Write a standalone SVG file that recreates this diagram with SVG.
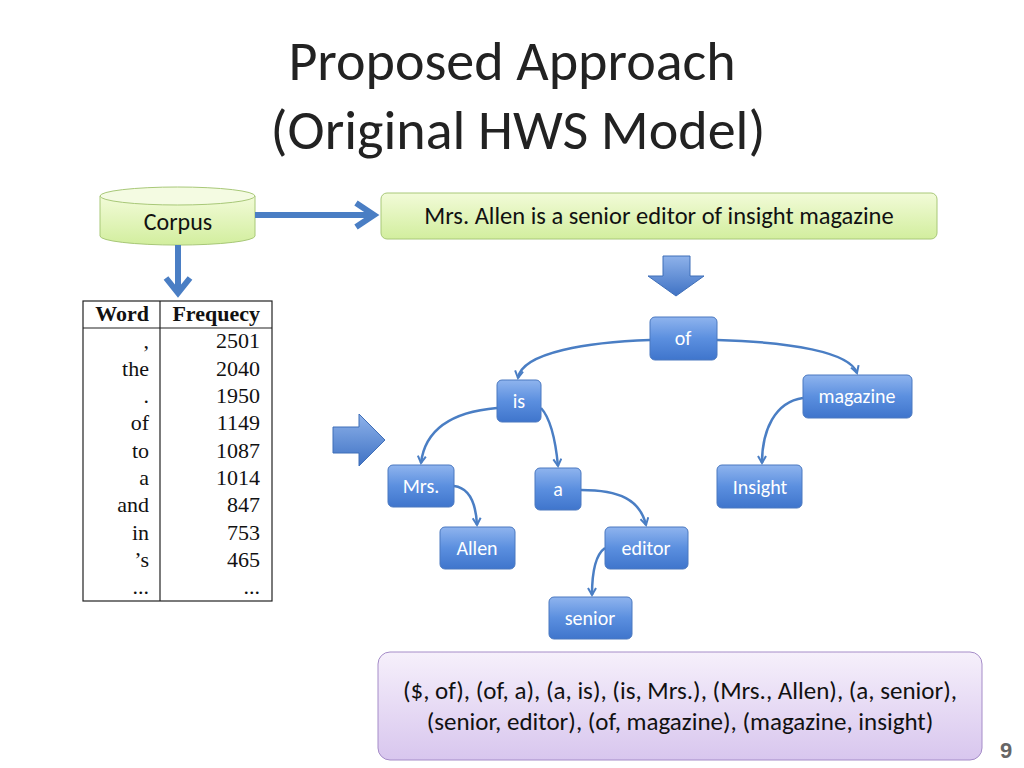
<svg xmlns="http://www.w3.org/2000/svg" width="1024" height="768" viewBox="0 0 1024 768">
<defs>
<linearGradient id="gb" x1="0" y1="0" x2="0" y2="1"><stop offset="0" stop-color="#8fb4ee"/><stop offset="0.5" stop-color="#5b8fdf"/><stop offset="1" stop-color="#3f75cc"/></linearGradient>
<linearGradient id="gg" x1="0" y1="0" x2="0" y2="1"><stop offset="0" stop-color="#f2fbd8"/><stop offset="1" stop-color="#d2ee9e"/></linearGradient>
<linearGradient id="gp" x1="0" y1="0" x2="0" y2="1"><stop offset="0" stop-color="#f6f0fb"/><stop offset="1" stop-color="#d8c6ee"/></linearGradient>
<linearGradient id="ga" x1="0" y1="0" x2="0" y2="1"><stop offset="0" stop-color="#8eb2ea"/><stop offset="1" stop-color="#3f72c4"/></linearGradient>
<marker id="ah" viewBox="0 0 10 10" refX="8" refY="5" markerWidth="4" markerHeight="4" orient="auto"><path d="M1,1 L8,5 L1,9" fill="none" stroke="#4a7ec4" stroke-width="2"/></marker>
<style>
.n rect{fill:url(#gb);stroke:#4a78c0;stroke-width:1}
.n text{font-family:Carlito,Calibri,"Open Sans","Liberation Sans",sans-serif;font-size:20px;fill:#fff;text-anchor:middle}
.c{fill:none;stroke:#4a7ec4;stroke-width:2.5;marker-end:url(#ah)}
.t{font-family:"Liberation Serif",serif;font-size:22px;fill:#111;text-anchor:end}
</style>
</defs>
<rect width="1024" height="768" fill="#fff"/>
<g font-family="Carlito,Calibri,'Open Sans','Liberation Sans',sans-serif" font-size="56" fill="#222" text-anchor="middle">
<text x="512" y="80">Proposed Approach</text>
<text x="518" y="149">(Original HWS Model)</text>
</g>
<g id="corpus">
<path d="M100,196 L100,236 A77,9 0 0 0 255,236 L255,196 Z" fill="url(#gg)" stroke="#a8c878"/>
<ellipse cx="177.5" cy="196" rx="77.5" ry="9" fill="#f4fbe2" stroke="#a8c878"/>
<text x="178" y="230" font-family="Carlito,Calibri,'Open Sans','Liberation Sans',sans-serif" font-size="24" text-anchor="middle" fill="#111">Corpus</text>
</g>
<g id="sentence">
<rect x="381" y="193" width="556" height="46" rx="6" fill="url(#gg)" stroke="#a8c878"/>
<text x="659" y="224" font-family="Carlito,Calibri,'Open Sans','Liberation Sans',sans-serif" font-size="24.5" text-anchor="middle" fill="#111">Mrs. Allen is a senior editor of insight magazine</text>
</g>
<g id="table">
<rect x="83" y="301" width="189" height="300" fill="#fff" stroke="#222" stroke-width="1.2"/>
<line x1="160" y1="301" x2="160" y2="601" stroke="#222" stroke-width="1.2"/>
<line x1="83" y1="328" x2="272" y2="328" stroke="#222" stroke-width="1.2"/>
<text class="t" x="149" y="321" font-weight="bold">Word</text>
<text class="t" x="260" y="321" font-weight="bold">Frequecy</text>
<text class="t" x="149" y="348">,</text><text class="t" x="260" y="348">2501</text>
<text class="t" x="149" y="376">the</text><text class="t" x="260" y="376">2040</text>
<text class="t" x="149" y="403">.</text><text class="t" x="260" y="403">1950</text>
<text class="t" x="149" y="430">of</text><text class="t" x="260" y="430">1149</text>
<text class="t" x="149" y="458">to</text><text class="t" x="260" y="458">1087</text>
<text class="t" x="149" y="485">a</text><text class="t" x="260" y="485">1014</text>
<text class="t" x="149" y="512">and</text><text class="t" x="260" y="512">847</text>
<text class="t" x="149" y="540">in</text><text class="t" x="260" y="540">753</text>
<text class="t" x="149" y="567">’s</text><text class="t" x="260" y="567">465</text>
<text class="t" x="149" y="594">...</text><text class="t" x="260" y="594">...</text>
</g>
<g id="big-arrows">
<line x1="255" y1="215" x2="372" y2="215" stroke="#4a7ec4" stroke-width="6"/>
<path d="M356,203 L374,215 L356,227" fill="none" stroke="#4a7ec4" stroke-width="6"/>
<line x1="178" y1="245" x2="178" y2="290" stroke="#4a7ec4" stroke-width="6"/>
<path d="M166,278 L178,293 L190,278" fill="none" stroke="#4a7ec4" stroke-width="6"/>
<path d="M663,256 L690,256 L690,276 L704,276 L676,296 L648,276 L663,276 Z" fill="url(#ga)" stroke="#3f6fb8"/>
<path d="M333,427 L359,427 L359,414 L385,440 L359,466 L359,453 L333,453 Z" fill="url(#ga)" stroke="#3f6fb8"/>
</g>
<g id="connectors">
<path class="c" d="M650,340 C590,342 522,352 518,378"/>
<path class="c" d="M717,340 C790,342 850,352 857,373"/>
<path class="c" d="M497,408 C450,412 425,430 421,463"/>
<path class="c" d="M541,408 C552,420 556,445 558,466"/>
<path class="c" d="M454,486 C470,488 476,505 477,525"/>
<path class="c" d="M581,490 C620,490 640,500 646,525"/>
<path class="c" d="M803,398 C775,402 762,430 762,463"/>
<path class="c" d="M605,548 C595,555 592,575 592,595"/>
</g>
<g id="of" class="n"><rect x="650" y="317" width="67" height="43" rx="5"/><text x="683" y="345">of</text></g>
<g id="is" class="n"><rect x="497" y="380" width="44" height="42" rx="5"/><text x="519" y="408">is</text></g>
<g id="magazine" class="n"><rect x="803" y="375" width="109" height="43" rx="5"/><text x="857" y="403">magazine</text></g>
<g id="mrs" class="n"><rect x="388" y="465" width="66" height="42" rx="5"/><text x="421" y="493">Mrs.</text></g>
<g id="a" class="n"><rect x="535" y="468" width="46" height="42" rx="5"/><text x="558" y="496">a</text></g>
<g id="insight" class="n"><rect x="717" y="465" width="85" height="43" rx="5"/><text x="760" y="494">Insight</text></g>
<g id="allen" class="n"><rect x="440" y="527" width="75" height="42" rx="5"/><text x="477" y="555">Allen</text></g>
<g id="editor" class="n"><rect x="605" y="527" width="83" height="42" rx="5"/><text x="646" y="555">editor</text></g>
<g id="senior" class="n"><rect x="549" y="597" width="83" height="42" rx="5"/><text x="590" y="625">senior</text></g>
<g id="pairs">
<rect x="378" y="652" width="604" height="108" rx="12" fill="url(#gp)" stroke="#a58cc8"/>
<g font-family="Carlito,Calibri,'Open Sans','Liberation Sans',sans-serif" font-size="25" fill="#111" text-anchor="middle">
<text x="680" y="699">($, of), (of, a), (a, is), (is, Mrs.), (Mrs., Allen), (a, senior),</text>
<text x="680" y="730">(senior, editor), (of, magazine), (magazine, insight)</text>
</g>
</g>
<text x="1006" y="758" font-family="'Liberation Sans',sans-serif" font-size="22" font-weight="bold" fill="#666" text-anchor="middle">9</text>
</svg>
